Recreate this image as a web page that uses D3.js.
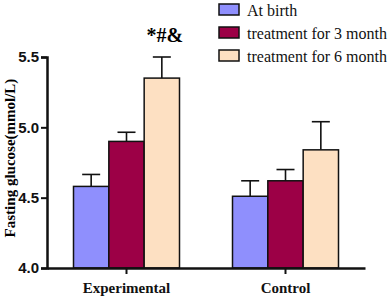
<!DOCTYPE html>
<html lang="en">
<head>
  <meta charset="UTF-8">
  <title></title>
  <style>
    html, body {
      margin: 0;
      overflow: hidden;
      width: 100%;
      height: 100%;
      background: #fff;
    }
    svg {
      position: absolute;
      top: 0;
      left: 0;
    }
  </style>
</head>
<body>
  <svg width="388" height="296"></svg>
</body>
<script src="https://d3js.org/d3.v7.min.js"></script>
<script type="text/javascript">
  const groups = ['Experimental', 'Control']
  const series = ['At birth', 'treatment for 3 month', 'treatment for 6 month']
  const colors = ['#8f8ffd', '#9c0046', '#fde0c2']
  const means = [
    [4.58, 4.90, 5.35],
    [4.51, 4.62, 4.84]
  ]
  const errors = [
    [0.085, 0.065, 0.15],
    [0.11, 0.08, 0.20]
  ]
  const yTicks = [4.0, 4.5, 5.0, 5.5]
  const note = '*#&'

  const svg = d3.select('svg')
  const serif = '"Liberation Serif", "Times New Roman", serif'
  const sans = '"Liberation Sans", Arial, sans-serif'

  const y = d3.scaleLinear().domain([4.0, 5.5]).range([268, 57])
  const x0 = d3.scaleBand().domain(groups).range([47, 365])
  const x1 = d3.scaleBand().domain(series).range([-53, 53])

  // bars
  const rows = []
  groups.forEach((g, gi) => series.forEach((s, si) => {
    rows.push({ g, s, si, v: means[gi][si], e: errors[gi][si] })
  }))

  const bar = svg.append('g')
    .selectAll('g')
    .data(rows)
    .enter().append('g')
      .attr('transform', d => `translate(${x0(d.g) + x0.bandwidth() / 2 + x1(d.s)},0)`)

  // error bars (up only)
  bar.append('line')
    .attr('x1', x1.bandwidth() / 2)
    .attr('x2', x1.bandwidth() / 2)
    .attr('y1', d => y(d.v))
    .attr('y2', d => y(d.v + d.e))
    .attr('stroke', '#111')
    .attr('stroke-width', 1.6)
  bar.append('line')
    .attr('x1', x1.bandwidth() / 2 - 9)
    .attr('x2', x1.bandwidth() / 2 + 9)
    .attr('y1', d => y(d.v + d.e))
    .attr('y2', d => y(d.v + d.e))
    .attr('stroke', '#111')
    .attr('stroke-width', 1.6)

  bar.append('rect')
    .attr('x', 0)
    .attr('width', x1.bandwidth())
    .attr('y', d => y(d.v))
    .attr('height', d => y(4.0) - y(d.v))
    .attr('fill', d => colors[d.si])
    .attr('stroke', '#111')
    .attr('stroke-width', 1.5)

  // annotation
  svg.append('text')
    .attr('x', x0('Experimental') + x0.bandwidth() / 2 + x1(series[2]) + x1.bandwidth() / 2 + 3)
    .attr('y', 42)
    .attr('text-anchor', 'middle')
    .attr('font-family', serif)
    .attr('font-weight', 'bold')
    .attr('font-size', 20)
    .text(note)

  // y axis
  const yAxis = svg.append('g')
    .attr('transform', 'translate(47,0)')
    .call(d3.axisLeft(y).tickValues(yTicks).tickFormat(d3.format('.1f')).tickSize(6).tickPadding(2))
  yAxis.select('.domain').attr('stroke', '#111').attr('stroke-width', 2.5)
  yAxis.selectAll('.tick line').attr('stroke', '#111').attr('stroke-width', 2)
  yAxis.selectAll('.tick text')
    .attr('font-family', sans)
    .attr('font-weight', 'bold')
    .attr('font-size', 15)
    .attr('fill', '#111')

  // x axis
  const xAxis = svg.append('g')
    .attr('transform', 'translate(0,268)')
    .call(d3.axisBottom(x0).tickSize(6).tickSizeOuter(0).tickPadding(8))
  xAxis.select('.domain').attr('stroke', '#111').attr('stroke-width', 2.5)
  xAxis.selectAll('.tick line').attr('stroke', '#111').attr('stroke-width', 2)
  xAxis.selectAll('.tick text')
    .attr('font-family', serif)
    .attr('font-weight', 'bold')
    .attr('font-size', 15)
    .attr('fill', '#111')

  // y label
  svg.append('text')
    .attr('transform', 'translate(15,158) rotate(-90)')
    .attr('text-anchor', 'middle')
    .attr('font-family', serif)
    .attr('font-weight', 'bold')
    .attr('font-size', 15)
    .text('Fasting glucose(mmol/L)')

  // legend
  const legend = svg.append('g')
    .selectAll('g')
    .data(series)
    .enter().append('g')
      .attr('transform', (d, i) => `translate(219,${4 + i * 23})`)
  legend.append('rect')
    .attr('width', 20)
    .attr('height', 11)
    .attr('fill', (d, i) => colors[i])
    .attr('stroke', '#111')
    .attr('stroke-width', 1.5)
  legend.append('text')
    .attr('x', 28)
    .attr('y', 12)
    .attr('font-family', serif)
    .attr('font-size', 16)
    .attr('fill', '#111')
    .text(d => d)
</script>
</html>
